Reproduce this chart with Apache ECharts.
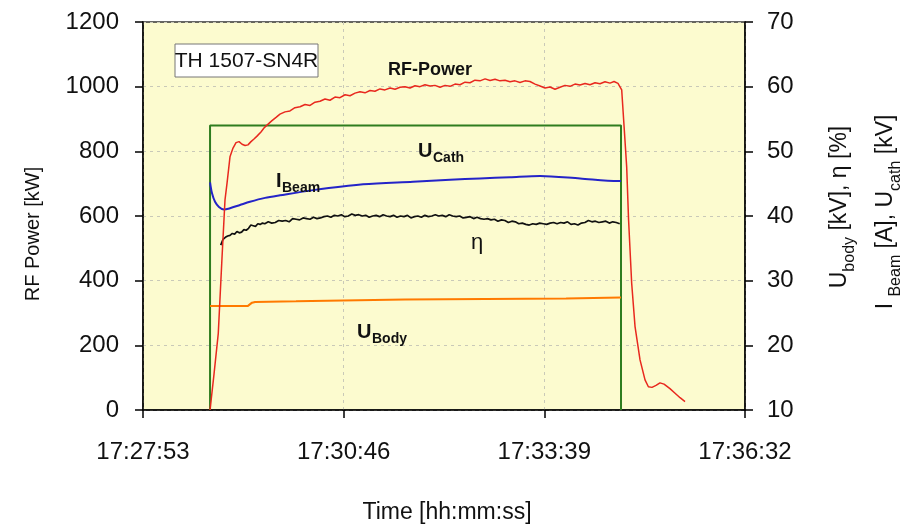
<!DOCTYPE html>
<html><head><meta charset="utf-8">
<script src="https://cdn.jsdelivr.net/npm/echarts@6/dist/echarts.min.js"></script>
<style>html,body{margin:0;padding:0;background:#fff}#c{width:923px;height:528px}</style>
</head><body><div id="c"></div>
<script>
// x values are seconds after 17:27:53
const timeTickLabels = ['17:27:53', '17:30:46', '17:33:39', '17:36:32'];
const timeTickStep = 173;

const rfTime = [57.8,61.2,64.9,68.1,70.7,72.4,75.0,77.6,80.2,82.8,85.4,88.0,90.5,93.1,95.7,98.3,101.7,104.3,106.9,111.2,114.7,118.1,122.4,126.7,131.0,135.4,139.7,144.0,148.3,152.6,156.9,161.2,165.5,169.8,174.2,178.5,182.8,187.1,191.4,195.7,200.0,204.3,208.6,213.0,217.3,221.6,225.9,230.2,234.5,238.8,243.1,247.4,251.7,256.1,260.4,264.7,269.0,273.3,277.6,281.9,286.2,290.5,294.9,299.2,303.5,307.8,312.1,316.4,320.7,325.0,329.3,333.6,338.0,342.3,346.6,350.9,355.2,359.5,363.8,368.1,372.4,376.7,381.1,385.4,389.7,394.0,398.3,402.6,406.1,409.5,412.7,414.7,417.0,418.6,421.3,424.2,428.5,432.8,435.7,438.8,442.3,445.7,449.2,454.3,458.7,463.0,467.3];
const rfPower = [0,110,237,470,650,700,783,810,827,830,822,818,820,830,838,847,860,872,881,895,905,915,922,925,935,938,945,942,952,955,962,958,968,966,975,972,980,984,981,988,986,993,990,996,992,998,1000,996,1003,1000,1006,1002,1004,998,1004,1001,1008,1006,1014,1012,1020,1018,1024,1019,1023,1018,1020,1015,1018,1013,1018,1016,1008,1002,996,999,992,998,1004,1001,1008,1005,1010,1006,1012,1009,1015,1011,1016,1010,990,880,752,590,392,258,155,93,72,70,76,84,80,66,52,38,26];

const cathTime = [57.8, 57.8, 412.1, 412.1];
const cathVolt = [10, 54, 54, 10];

const beamTime = [57.8,59.5,62.1,65.5,69.8,75.0,83.6,92.2,105.2,118.1,146.6,189.7,232.8,264.7,290.5,316.4,342.3,376.8,409.5,412.1];
const beamCurrent = [45.2,43.5,42.2,41.4,41.0,41.2,41.7,42.2,42.8,43.2,44.0,44.9,45.3,45.6,45.8,46.0,46.2,45.8,45.4,45.4];

const etaTime = [67,69,71,73,75,77,79,81,83,85,87,89,91,93,95,97,99,101,103,105,108,111,114,117,120,123,126,129,132,135,138,141,144,147,150,153,156,159,162,165,168,171,174,177,180,183,186,189,192,195,198,201,204,207,210,213,216,219,222,225,228,231,234,237,240,243,246,249,252,255,258,261,264,267,270,273,276,279,282,285,288,291,294,297,300,303,306,309,312,315,318,321,324,327,330,333,336,339,342,345,348,351,354,357,360,363,366,369,372,375,378,381,384,387,390,393,396,399,402,405,408,411];
const etaEff = [35.5,36.4,36.7,36.9,37.0,37.3,37.2,37.6,37.4,37.5,37.9,37.8,38.1,38.6,38.5,38.4,38.8,38.7,38.9,38.8,39.1,38.9,39.0,39.3,39.2,39.3,39.1,39.6,39.5,39.4,39.7,39.6,39.5,39.8,39.6,39.7,39.9,40.0,39.8,40.1,40.0,40.2,39.9,40.0,40.3,40.1,40.2,40.0,40.1,39.8,40.0,40.1,39.9,40.2,40.0,39.9,40.1,39.8,40.0,39.9,40.1,39.7,39.9,40.0,39.8,40.1,39.9,40.0,40.2,40.0,40.1,39.9,40.2,40.0,39.9,40.0,39.7,39.8,39.9,39.6,39.8,39.6,39.5,39.6,39.4,39.5,39.2,39.4,39.3,39.0,39.2,39.1,38.8,38.9,38.7,38.6,38.8,38.7,38.9,38.8,38.7,38.9,39.0,38.8,39.0,38.9,39.1,38.7,38.8,38.6,38.9,39.0,39.3,39.1,39.2,39.0,39.1,39.2,38.9,39.1,39.0,38.8];

const bodyTime = [57.8, 90.5, 94.0, 96.6, 131.9, 133.6, 225.9, 227.6, 364.7, 366.4, 412.1];
const bodyVolt = [26.1, 26.1, 26.6, 26.7, 26.8, 27.0, 27.1, 27.25, 27.25, 27.4, 27.4];

const pairs = (xs, ys) => xs.map((x, i) => [x, ys[i]]);
const FONT = '"Liberation Sans", Arial, sans-serif';

const chart = echarts.init(document.getElementById('c'), null, { renderer: 'canvas' });

const axisLabelStyle = { fontSize: 24, color: '#111', fontFamily: FONT };
const gridLine = { show: true, lineStyle: { color: '#c9c9b8', type: [3, 4], width: 1 } };

chart.setOption({
  animation: false,
  backgroundColor: '#ffffff',
  grid: { left: 143, right: 178, top: 22, bottom: 118, show: true, backgroundColor: '#fcfbcf', borderColor: '#333', borderWidth: 1.5 },
  xAxis: {
    type: 'value', min: 0, max: 519, interval: timeTickStep,
    axisLine: { show: true, onZero: false, lineStyle: { color: '#000', width: 1.5 } },
    axisTick: { show: true, length: 8, lineStyle: { color: '#000', width: 1.5 } },
    axisLabel: Object.assign({ margin: 30, formatter: v => timeTickLabels[Math.round(v / timeTickStep)] }, axisLabelStyle),
    splitLine: gridLine
  },
  yAxis: [
    {
      type: 'value', min: 0, max: 1200, interval: 200, position: 'left',
      axisLine: { show: true, lineStyle: { color: '#000', width: 1.5 } },
      axisTick: { show: true, length: 8, lineStyle: { color: '#000', width: 1.5 } },
      axisLabel: Object.assign({ margin: 24, formatter: v => String(v) }, axisLabelStyle),
      splitLine: gridLine
    },
    {
      type: 'value', min: 10, max: 70, interval: 10, position: 'right',
      axisLine: { show: true, lineStyle: { color: '#000', width: 1.5 } },
      axisTick: { show: true, length: 8, lineStyle: { color: '#000', width: 1.5 } },
      axisLabel: Object.assign({ margin: 22, formatter: v => String(v) }, axisLabelStyle),
      splitLine: { show: false }
    }
  ],
  series: [
    { name: 'U_Cath', type: 'line', yAxisIndex: 1, data: pairs(cathTime, cathVolt), showSymbol: false,
      lineStyle: { color: '#2e7d1f', width: 2 } },
    { name: 'U_Body', type: 'line', yAxisIndex: 1, data: pairs(bodyTime, bodyVolt), showSymbol: false,
      lineStyle: { color: '#ff7a00', width: 2 } },
    { name: 'eta', type: 'line', yAxisIndex: 1, data: pairs(etaTime, etaEff), showSymbol: false,
      lineStyle: { color: '#111', width: 1.7 } },
    { name: 'I_Beam', type: 'line', yAxisIndex: 1, data: pairs(beamTime, beamCurrent), showSymbol: false, smooth: 0.3,
      lineStyle: { color: '#2424c8', width: 2 } },
    { name: 'RF-Power', type: 'line', yAxisIndex: 0, data: pairs(rfTime, rfPower), showSymbol: false,
      lineStyle: { color: '#e8281e', width: 1.5 } }
  ],
  graphic: [
    { type: 'rect', shape: { x: 175, y: 44, width: 143, height: 33 }, style: { fill: '#ffffff', stroke: '#777', lineWidth: 1 }, z: 100 },
    { type: 'text', x: 246.5, y: 61, z: 101, style: { text: 'TH 1507-SN4R', font: '21px ' + FONT, fill: '#111', align: 'center', verticalAlign: 'middle' } },
    { type: 'text', x: 430, y: 70, z: 101, style: { text: 'RF-Power', font: 'bold 18px ' + FONT, fill: '#111', align: 'center', verticalAlign: 'middle' } },
    { type: 'text', x: 418, y: 151, z: 101, style: { text: 'U', font: 'bold 20px ' + FONT, fill: '#111', align: 'left', verticalAlign: 'middle' } },
    { type: 'text', x: 433, y: 158, z: 101, style: { text: 'Cath', font: 'bold 14px ' + FONT, fill: '#111', align: 'left', verticalAlign: 'middle' } },
    { type: 'text', x: 276, y: 181, z: 101, style: { text: 'I', font: 'bold 20px ' + FONT, fill: '#111', align: 'left', verticalAlign: 'middle' } },
    { type: 'text', x: 282, y: 188, z: 101, style: { text: 'Beam', font: 'bold 14px ' + FONT, fill: '#111', align: 'left', verticalAlign: 'middle' } },
    { type: 'text', x: 477, y: 243, z: 101, style: { text: 'η', font: '22px ' + FONT, fill: '#111', align: 'center', verticalAlign: 'middle' } },
    { type: 'text', x: 357, y: 332, z: 101, style: { text: 'U', font: 'bold 20px ' + FONT, fill: '#111', align: 'left', verticalAlign: 'middle' } },
    { type: 'text', x: 372, y: 339, z: 101, style: { text: 'Body', font: 'bold 14px ' + FONT, fill: '#111', align: 'left', verticalAlign: 'middle' } },
    { type: 'text', x: 447, y: 513, style: { text: 'Time [hh:mm:ss]', font: '23px ' + FONT, fill: '#111', align: 'center', verticalAlign: 'middle' } },
    { type: 'text', x: 33, y: 234, rotation: Math.PI / 2, style: { text: 'RF Power [kW]', font: '20px ' + FONT, fill: '#111', align: 'center', verticalAlign: 'middle' } },
    { type: 'text', x: 845, y: 207, rotation: Math.PI / 2, style: {
        text: '{a|U}{s|body}{a| [kV], η [%]}', align: 'center', verticalAlign: 'middle', fill: '#111',
        rich: { a: { fontSize: 23, fontFamily: FONT, lineHeight: 25, padding: [0, 0, 6, 0], verticalAlign: 'bottom', color: '#111' },
                s: { fontSize: 16, fontFamily: FONT, lineHeight: 16, verticalAlign: 'bottom', color: '#111' } } } },
    { type: 'text', x: 891, y: 212, rotation: Math.PI / 2, style: {
        text: '{a|I }{s|Beam}{a| [A], U}{s|cath}{a| [kV]}', align: 'center', verticalAlign: 'middle', fill: '#111',
        rich: { a: { fontSize: 23, fontFamily: FONT, lineHeight: 25, padding: [0, 0, 6, 0], verticalAlign: 'bottom', color: '#111' },
                s: { fontSize: 16, fontFamily: FONT, lineHeight: 16, verticalAlign: 'bottom', color: '#111' } } } }
  ]
});
</script></body></html>
